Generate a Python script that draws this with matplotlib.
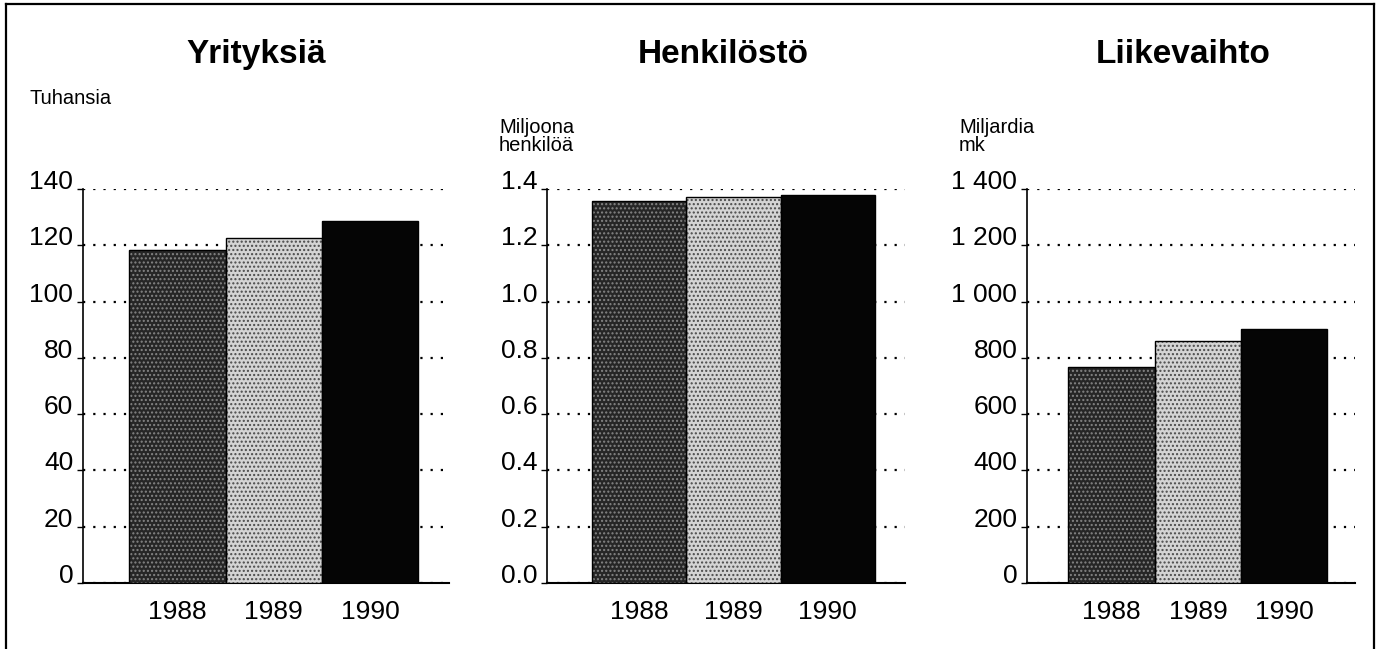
"""Yritykset, henkilöstö ja liikevaihto 1988–1990: three bar panels in one frame."""

import matplotlib
matplotlib.use("Agg")
import matplotlib.pyplot as plt
from matplotlib.lines import Line2D

plt.rcParams["font.family"] = ["Liberation Sans", "DejaVu Sans"]
plt.rcParams["hatch.linewidth"] = 1.0

# ============================================================
# DATA
# ============================================================
YEARS = ["1988", "1989", "1990"]

yrityksia = [118.2, 122.6, 128.8]        # tuhansia
henkilosto = [1.357, 1.372, 1.379]       # miljoona henkilöä
liikevaihto = [768, 861, 903]            # miljardia mk

TITLES = ["Yrityksiä", "Henkilöstö", "Liikevaihto"]
UNITS = ["Tuhansia", "Miljoona\nhenkilöä", "Miljardia\nmk"]

TICKS_1 = [0, 20, 40, 60, 80, 100, 120, 140]
TICKS_2 = [0.0, 0.2, 0.4, 0.6, 0.8, 1.0, 1.2, 1.4]
TICKS_3 = [0, 200, 400, 600, 800, 1000, 1200, 1400]
TICKLABELS_1 = ["0", "20", "40", "60", "80", "100", "120", "140"]
TICKLABELS_2 = ["0.0", "0.2", "0.4", "0.6", "0.8", "1.0", "1.2", "1.4"]
TICKLABELS_3 = ["0", "200", "400", "600", "800", "1 000", "1 200", "1 400"]

# screened fills: base tone + dot colour
BAR_FACE = ["#262626", "#d4d4d4", "#050505"]
BAR_DOTS = ["#858585", "#4a4a4a", None]

# ============================================================
# FIGURE
# ============================================================
W, H = 1381, 649
fig = plt.figure(figsize=(W / 100, H / 100), dpi=100)

# axes boxes in pixels: (left, right)
boxes = [(83, 449), (547, 905), (1027, 1355)]
y_top, y_bot = 189, 583
title_x = [256, 723, 1183]
unit_x = [30, 499, 959]

panels = [
    (yrityksia, TICKS_1, TICKLABELS_1),
    (henkilosto, TICKS_2, TICKLABELS_2),
    (liikevaihto, TICKS_3, TICKLABELS_3),
]

for i, ((x0, x1), (vals, ticks, ticklabels)) in enumerate(zip(boxes, panels)):
    ax = fig.add_axes([x0 / W, 1 - y_bot / H, (x1 - x0) / W, (y_bot - y_top) / H])
    xs = list(range(len(YEARS)))
    ax.bar(xs, vals, width=1.0, color=BAR_FACE, linewidth=0, zorder=3)
    for x, v, dc in zip(xs, vals, BAR_DOTS):
        if dc:
            ax.bar(x, v, width=1.0, fill=False, hatch="....", edgecolor=dc,
                   linewidth=0, zorder=4)
    ax.bar(xs, vals, width=1.0, fill=False, edgecolor="black", linewidth=1.0, zorder=5)

    ax.set_xlim(-0.98, 2.82)
    ax.set_ylim(ticks[0], ticks[-1])
    ax.set_yticks(ticks)
    ax.set_yticklabels(ticklabels, fontsize=19, va="baseline")
    ax.set_xticks(xs)
    ax.set_xticklabels(YEARS, fontsize=19)
    ax.tick_params(axis="x", length=0, pad=12)
    ax.tick_params(axis="y", length=4, width=1.0, pad=3, direction="out")
    ax.yaxis.grid(True, color="black", linestyle=(0, (1, 3.6)), linewidth=1.6)
    ax.set_axisbelow(True)
    for side in ("top", "right"):
        ax.spines[side].set_visible(False)
    ax.spines["left"].set_linewidth(1.2)
    ax.spines["bottom"].set_linewidth(1.5)

    # panel title and unit label
    fig.text(title_x[i] / W, 1 - 63 / H, TITLES[i], fontsize=24,
             fontweight="bold", ha="center", va="baseline")
    fig.text(unit_x[i] / W, 1 - (89 if i == 0 else 118) / H, UNITS[i],
             fontsize=14.5, ha="left", va="top", linespacing=0.95)

# outer frame (bottom edge is cut off in the reference)
lw = 1.6
fig.add_artist(Line2D([6 / W, 6 / W], [0, 1 - 3.5 / H], color="black", lw=lw))
fig.add_artist(Line2D([1374 / W, 1374 / W], [0, 1 - 3.5 / H], color="black", lw=lw))
fig.add_artist(Line2D([6 / W, 1374 / W], [1 - 3.5 / H, 1 - 3.5 / H], color="black", lw=lw))

fig.savefig("out.png", dpi=100)
